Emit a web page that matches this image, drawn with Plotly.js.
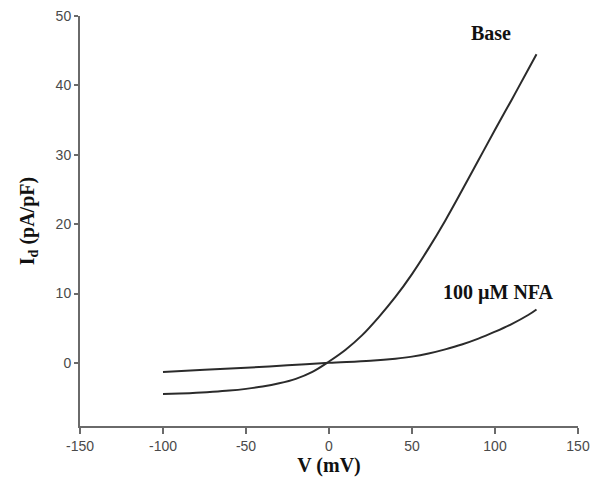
<!DOCTYPE html>
<html>
<head>
<meta charset="utf-8">
<script src="https://cdn.plot.ly/plotly-3.0.1.min.js"></script>
<style>
  body { margin: 0; background: #fff; }
  #chart { width: 600px; height: 488px; }
</style>
</head>
<body>
<div id="chart"></div>
<script>
// ---- data ----
var baseV = [-100, -90, -80, -70, -60, -50, -40, -30, -20, -10, 0, 10, 20, 30, 40, 50, 60, 70, 80, 90, 100, 110, 120, 125];
var baseI = [-4.5, -4.42, -4.32, -4.18, -4.0, -3.75, -3.42, -2.95, -2.3, -1.3, 0.2, 1.9, 4.0, 6.6, 9.5, 12.8, 16.5, 20.5, 24.8, 29.2, 33.6, 37.9, 42.3, 44.5];

var nfaV = [-100, -75, -50, -25, 0, 25, 40, 50, 60, 70, 80, 90, 100, 110, 120, 125];
var nfaI = [-1.3, -1.0, -0.7, -0.35, 0, 0.3, 0.6, 0.9, 1.35, 1.95, 2.65, 3.5, 4.5, 5.6, 6.9, 7.7];

var xTicks = [-150, -100, -50, 0, 50, 100, 150];
var yTicks = [0, 10, 20, 30, 40, 50];

var serif = 'Liberation Serif, Times New Roman, serif';
var sans = 'Liberation Sans, Arial, sans-serif';

// ---- traces ----
var lineStyle = { color: '#2b2b2b', width: 2, shape: 'spline', smoothing: 1 };

var traces = [
    { x: baseV, y: baseI, mode: 'lines', name: 'Base', line: lineStyle, hoverinfo: 'x+y' },
    { x: nfaV, y: nfaI, mode: 'lines', name: '100 µM NFA', line: lineStyle, hoverinfo: 'x+y' }
];

var layout = {
    width: 600,
    height: 488,
    margin: { l: 80, r: 22, t: 16, b: 62 },
    paper_bgcolor: '#fff',
    plot_bgcolor: '#fff',
    showlegend: false,
    xaxis: {
        range: [-150, 150],
        tickvals: xTicks,
        ticktext: xTicks.map(String),
        showgrid: false,
        zeroline: false,
        showline: true,
        linecolor: '#6a6a6a',
        linewidth: 2,
        ticks: 'outside',
        ticklen: 6,
        tickwidth: 2,
        tickcolor: '#6a6a6a',
        tickfont: { family: sans, size: 14, color: '#4a4a4a' },
        title: { text: '<b>V (mV)</b>', font: { family: serif, size: 20, color: '#111' }, standoff: 5 }
    },
    yaxis: {
        range: [-9.1, 50],
        tickvals: yTicks,
        ticktext: yTicks.map(String),
        showgrid: false,
        zeroline: false,
        showline: true,
        linecolor: '#6a6a6a',
        linewidth: 2,
        ticks: 'outside',
        ticklen: 4,
        tickwidth: 2,
        tickcolor: '#6a6a6a',
        tickfont: { family: sans, size: 14, color: '#4a4a4a' },
        title: { text: '<b>I<sub>d</sub> (pA/pF)</b>', font: { family: serif, size: 20, color: '#111' }, standoff: 16 }
    },
    annotations: [
        { x: 97.5, y: 47.5, xref: 'x', yref: 'y', text: '<b>Base</b>', showarrow: false,
          font: { family: serif, size: 20, color: '#111' } },
        { x: 102, y: 10.1, xref: 'x', yref: 'y', text: '<b>100 µM NFA</b>', showarrow: false,
          font: { family: serif, size: 20, color: '#111' } }
    ]
};

Plotly.newPlot('chart', traces, layout, { displayModeBar: false, staticPlot: true });
</script>
</body>
</html>
